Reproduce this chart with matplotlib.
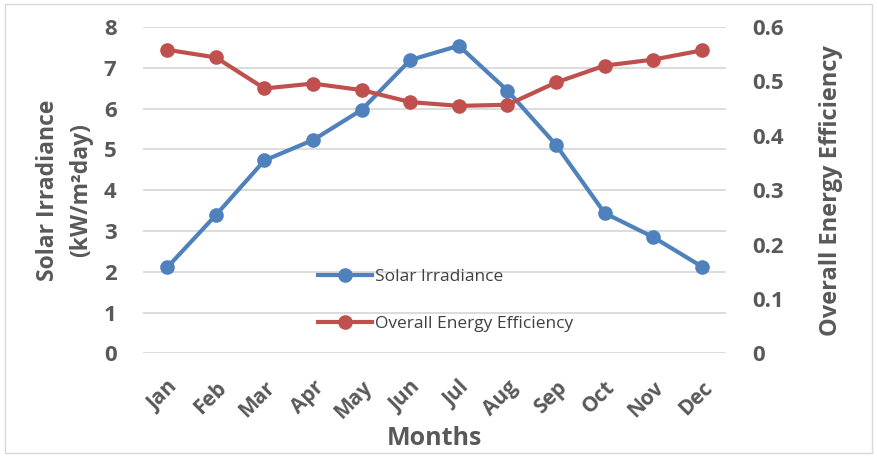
import matplotlib.pyplot as plt
from matplotlib.patches import Rectangle

months = ['Jan', 'Feb', 'Mar', 'Apr', 'May', 'Jun', 'Jul', 'Aug', 'Sep', 'Oct', 'Nov', 'Dec']
irradiance = [2.11, 3.39, 4.73, 5.23, 5.97, 7.19, 7.54, 6.44, 5.11, 3.44, 2.85, 2.13]
efficiency = [0.558, 0.544, 0.487, 0.496, 0.484, 0.462, 0.455, 0.457, 0.498, 0.529, 0.540, 0.557]

grey = '#595959'
blue = '#4f81bd'
red = '#c0504d'

plt.rcParams['font.family'] = ['Open Sans', 'DejaVu Sans']

fig = plt.figure(figsize=(8.77, 4.57), dpi=100)
ax = fig.add_axes([0.163, 0.2265, 0.665, 0.7145])
ax2 = ax.twinx()

x = list(range(len(months)))
l1, = ax.plot(x, irradiance, color=blue, lw=3, marker='o', ms=9.5, label='Solar Irradiance', zorder=3)
l2, = ax2.plot(x, efficiency, color=red, lw=3, marker='o', ms=9.5, label='Overall Energy Efficiency', zorder=3)

ax.set_xlim(-0.5, 11.5)
ax.set_ylim(0, 8)
ax2.set_ylim(0, 0.6)
ax.set_yticks(range(0, 9))
ax2.set_yticks([0, 0.1, 0.2, 0.3, 0.4, 0.5, 0.6])
ax2.set_yticklabels(['0', '0.1', '0.2', '0.3', '0.4', '0.5', '0.6'])
ax.set_xticks(x)
ax.set_xticklabels(months, rotation=45, ha='right', rotation_mode='anchor')

ax.grid(axis='y', color='#d9d9d9', lw=1.3)
ax.set_axisbelow(True)
for a in (ax, ax2):
    for s in a.spines.values():
        s.set_visible(False)
    a.tick_params(length=0, colors=grey, labelsize=16)
    for t in a.get_xticklabels() + a.get_yticklabels():
        t.set_fontweight('bold')
ax.tick_params(axis='y', pad=19)
ax2.tick_params(axis='y', pad=19)
ax.tick_params(axis='x', labelsize=15, pad=17)

ax.set_ylabel('Solar Irradiance\n(kW/m²day)', fontsize=16.5, fontweight='bold', color=grey, labelpad=8, linespacing=1.5)
ax2.set_ylabel('Overall Energy Efficiency', fontsize=17, fontweight='bold', color=grey, labelpad=25)
ax.set_xlabel('Months', fontsize=18, fontweight='bold', color=grey, labelpad=2)

fig.legend(handles=[l1, l2], loc='upper left', bbox_to_anchor=(0.345, 0.445), frameon=False,
           fontsize=12.5, labelcolor='#404040', handlelength=3.1, handletextpad=0.2, labelspacing=1.75)

fig.patches.append(Rectangle((0.006, 0.008), 0.988, 0.984, transform=fig.transFigure,
                             fill=False, edgecolor='#d9d9d9', lw=1))

fig.savefig('out.png', dpi=100)
